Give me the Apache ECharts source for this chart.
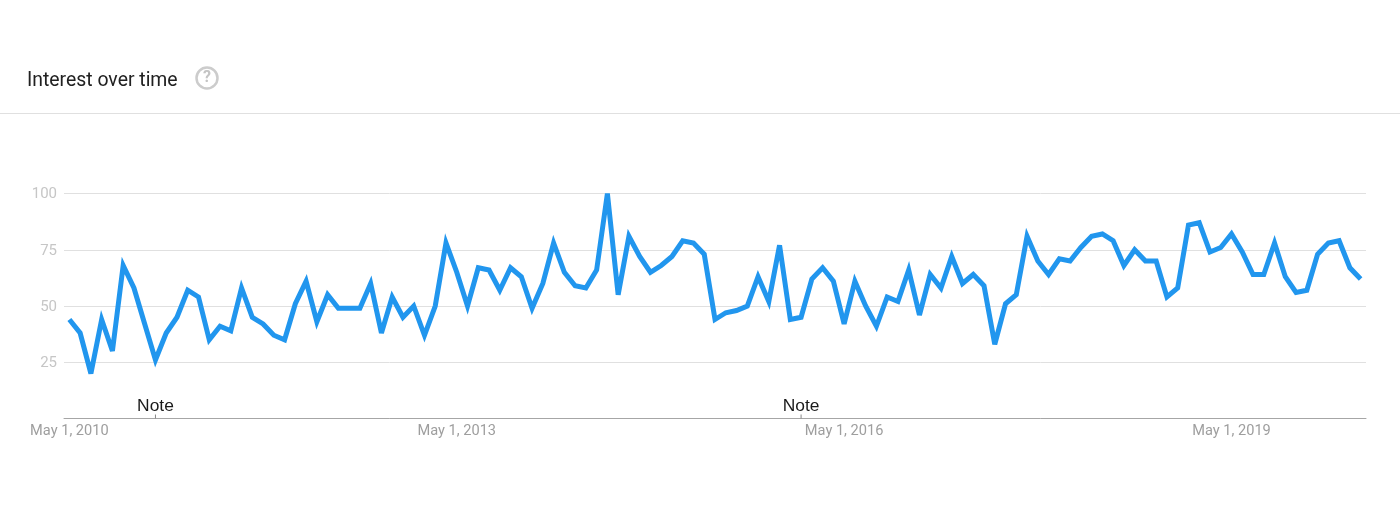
<!DOCTYPE html>
<html>
<head>
<meta charset="utf-8">
<title>Interest over time</title>
<script src="https://cdn.jsdelivr.net/npm/echarts@6/dist/echarts.min.js"></script>
<style>
  html, body { margin: 0; padding: 0; background: #fff; }
  #chart { width: 1400px; height: 521px; }
</style>
</head>
<body>
<div id="chart"></div>
<script>
const monthNames = ['Jan', 'Feb', 'Mar', 'Apr', 'May', 'Jun', 'Jul', 'Aug', 'Sep', 'Oct', 'Nov', 'Dec']
const interest = [
  44, 38, 20, 44, 30, 68, 58, 42, 26, 38, 45, 57, 54, 35, 41, 39, 58, 45, 42, 37,
  35, 51, 61, 43, 55, 49, 49, 49, 60, 38, 54, 45, 50, 37, 50, 78, 65, 50, 67, 66,
  57, 67, 63, 49, 60, 78, 65, 59, 58, 66, 100, 55, 81, 72, 65, 68, 72, 79, 78, 73,
  44, 47, 48, 50, 63, 52, 77, 44, 45, 62, 67, 61, 42, 61, 50, 41, 54, 52, 66, 46,
  64, 58, 72, 60, 64, 59, 33, 51, 55, 81, 70, 64, 71, 70, 76, 81, 82, 79, 68, 75,
  70, 70, 54, 58, 86, 87, 74, 76, 82, 74, 64, 64, 78, 63, 56, 57, 73, 78, 79, 67, 62
]
const noteIndexes = [8, 68]

// one category per month, starting May 2010
const months = interest.map((v, i) => {
  const m = 4 + i
  return monthNames[m % 12] + ' 1, ' + (2010 + Math.floor(m / 12))
})

const chart = echarts.init(document.getElementById('chart'), null, { renderer: 'canvas' })
chart.setOption({
  animation: false,
  backgroundColor: '#ffffff',
  title: {
    text: 'Interest over time',
    left: 27,
    top: 72,
    padding: 0,
    textStyle: { fontFamily: 'Roboto', fontSize: 19.4, fontWeight: 'normal', color: '#212121' }
  },
  graphic: [
    { type: 'line', shape: { x1: 0, y1: 113.5, x2: 1400, y2: 113.5 }, style: { stroke: '#e0e0e0', lineWidth: 1 } },
    { type: 'circle', shape: { cx: 207, cy: 78, r: 10.5 }, style: { fill: 'none', stroke: '#cccccc', lineWidth: 2.5 } },
    {
      type: 'text',
      x: 207,
      y: 78,
      style: { text: '?', align: 'center', verticalAlign: 'middle', fontFamily: 'Roboto', fontSize: 16, fontWeight: 'bold', fill: '#c4c4c4' }
    }
  ],
  grid: { left: 64, right: 34, top: 193.5, height: 225, containLabel: false },
  xAxis: {
    type: 'category',
    data: months,
    boundaryGap: true,
    axisLine: { lineStyle: { color: '#a6a6a6', width: 1 } },
    axisTick: { show: false },
    axisLabel: {
      interval: (index) => index % 36 === 0,
      hideOverlap: false,
      margin: 5,
      fontFamily: 'Roboto',
      fontSize: 14.6,
      color: '#9e9e9e'
    },
    splitLine: { show: false }
  },
  yAxis: {
    type: 'value',
    min: 0,
    max: 100,
    interval: 25,
    axisLine: { show: false },
    axisTick: { show: false },
    axisLabel: {
      margin: 7,
      formatter: (value) => value === 0 ? '' : '{n|' + value + '}',
      rich: {
        n: { padding: [2, 0, 0, 0], fontFamily: 'Roboto', fontSize: 15, color: '#c6c6c6' }
      }
    },
    splitLine: { lineStyle: { color: '#e0e0e0', width: 1 } }
  },
  series: [{
    type: 'line',
    data: interest,
    symbol: 'none',
    smooth: false,
    lineStyle: { color: '#2196ee', width: 5, join: 'miter', miterLimit: 4, cap: 'butt' },
    markPoint: {
      silent: true,
      symbol: 'rect',
      symbolSize: [1, 4],
      symbolOffset: [0, -2],
      itemStyle: { color: '#888888' },
      label: {
        show: true,
        position: 'top',
        distance: 0,
        formatter: 'Note',
        fontFamily: 'Liberation Sans',
        fontSize: 17.4,
        color: '#1a1a1a'
      },
      data: noteIndexes.map((i) => ({ coord: [i, 0] }))
    }
  }]
})
</script>
</body>
</html>
